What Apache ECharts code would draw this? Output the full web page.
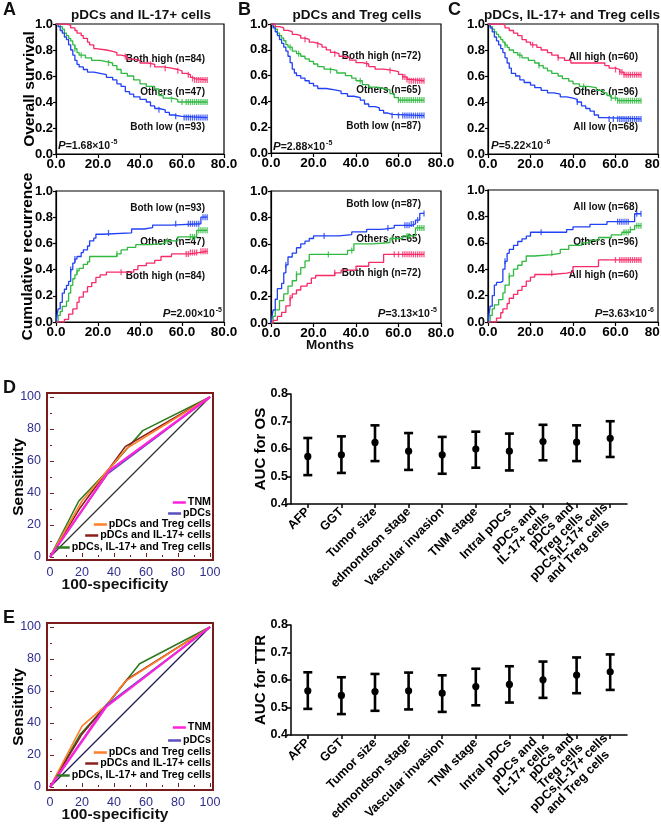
<!DOCTYPE html>
<html><head><meta charset="utf-8">
<script src="https://cdn.jsdelivr.net/npm/echarts@6/dist/echarts.min.js"></script>
<style>html,body{margin:0;padding:0;background:#fff}#c{width:661px;height:830px}</style>
</head><body><div id="c"></div><script>
const FONT='Arial, "Liberation Sans", Helvetica, sans-serif';
const C_HIGH='#F72A68', C_OTH='#2FB940', C_LOW='#2141F5';

// ---------- Kaplan-Meier: overall survival ----------
const A_os_high=[[0,1],[5,0.99],[7,0.97],[9,0.95],[10,0.93],[12,0.91],[13,0.89],[15,0.86],[16,0.84],[18,0.81],[19,0.80],[24,0.79],[27,0.78],[29,0.76],[31,0.75],[34,0.73],[37,0.72],[40,0.70],[44,0.69],[47,0.67],[51,0.66],[55,0.65],[58,0.64],[60,0.62],[62,0.61],[64,0.59],[65,0.58],[66,0.57],[72,0.57]];
const A_os_oth=[[0,1],[2,0.98],[3,0.96],[4,0.93],[5,0.91],[6,0.89],[7,0.87],[8,0.84],[9,0.81],[10,0.78],[11,0.76],[14,0.74],[17,0.72],[21,0.71],[24,0.70],[27,0.68],[29,0.65],[31,0.62],[34,0.60],[37,0.57],[40,0.54],[43,0.52],[47,0.50],[49,0.45],[51,0.43],[55,0.42],[58,0.40],[72,0.40]];
const A_os_low=[[0,1],[1,0.98],[2,0.95],[3,0.93],[4,0.90],[5,0.88],[6,0.84],[7,0.80],[8,0.76],[9,0.72],[10,0.69],[11,0.67],[13,0.65],[15,0.63],[18,0.62],[21,0.61],[24,0.59],[27,0.57],[29,0.54],[31,0.52],[33,0.48],[35,0.46],[37,0.44],[40,0.42],[43,0.40],[45,0.37],[47,0.35],[49,0.34],[52,0.32],[54,0.30],[56,0.29],[60,0.28],[72,0.28]];
const A_os_high_c=[33,45,52,58,63,65,66,67,68,69,70,71,72];
const A_os_oth_c=[9,12,25,55,60,62,63,64,65,66,67,68,69,70,71,72];
const A_os_low_c=[49,57,61,62,63,64,65,66,67,68,69,70,71,72];

const B_os_high=[[0,1],[2,0.98],[4,0.97],[6,0.95],[8,0.94],[10,0.92],[12,0.91],[14,0.89],[16,0.88],[18,0.86],[20,0.85],[22,0.84],[24,0.82],[26,0.80],[28,0.78],[30,0.77],[32,0.75],[34,0.74],[37,0.72],[40,0.70],[43,0.69],[46,0.67],[49,0.65],[53,0.64],[57,0.63],[60,0.61],[62,0.59],[64,0.57],[65,0.56],[72,0.56]];
const B_os_oth=[[0,1],[1,0.98],[2,0.96],[3,0.93],[4,0.91],[5,0.89],[6,0.87],[7,0.84],[8,0.82],[10,0.79],[12,0.77],[14,0.75],[16,0.73],[18,0.71],[20,0.69],[22,0.67],[25,0.65],[28,0.64],[31,0.62],[35,0.60],[38,0.58],[40,0.56],[43,0.53],[46,0.51],[50,0.50],[53,0.49],[56,0.46],[58,0.43],[60,0.41],[72,0.41]];
const B_os_low=[[0,1],[1,0.97],[2,0.94],[3,0.91],[4,0.88],[5,0.85],[6,0.82],[7,0.79],[8,0.75],[9,0.70],[10,0.65],[11,0.62],[12,0.60],[14,0.58],[16,0.56],[18,0.54],[20,0.52],[22,0.50],[26,0.49],[30,0.48],[33,0.46],[36,0.44],[39,0.43],[42,0.41],[44,0.38],[46,0.36],[49,0.35],[51,0.33],[53,0.31],[55,0.30],[57,0.29],[72,0.29]];
const B_os_high_c=[16,22,30,45,56,62,63,64,65,66,67,68,69,70,71,72];
const B_os_oth_c=[9,13,28,42,60,61,62,63,64,65,66,67,68,69,70,71,72];
const B_os_low_c=[57,60,62,63,64,65,66,67,68,69,70,71,72];

const C_os_high=[[0,1],[7,0.99],[8,0.97],[10,0.95],[12,0.93],[14,0.91],[16,0.88],[18,0.86],[20,0.84],[23,0.82],[25,0.80],[28,0.78],[30,0.76],[33,0.74],[36,0.72],[39,0.70],[55,0.68],[57,0.66],[60,0.65],[62,0.63],[64,0.61],[72,0.61]];
const C_os_oth=[[0,1],[1,0.98],[2,0.96],[3,0.94],[4,0.92],[5,0.90],[6,0.88],[7,0.86],[8,0.84],[9,0.82],[10,0.80],[12,0.78],[14,0.76],[16,0.74],[19,0.72],[22,0.70],[24,0.68],[26,0.66],[28,0.64],[30,0.62],[33,0.60],[35,0.58],[38,0.56],[40,0.54],[43,0.52],[47,0.51],[51,0.49],[54,0.47],[56,0.45],[58,0.43],[61,0.41],[72,0.41]];
const C_os_low=[[0,1],[1,0.97],[2,0.94],[3,0.90],[4,0.87],[5,0.84],[6,0.81],[7,0.78],[8,0.74],[9,0.70],[10,0.66],[11,0.62],[13,0.60],[15,0.57],[17,0.55],[20,0.53],[22,0.51],[25,0.49],[28,0.47],[31,0.46],[34,0.44],[37,0.43],[40,0.42],[42,0.40],[44,0.37],[46,0.35],[48,0.33],[50,0.30],[52,0.28],[55,0.27],[72,0.27]];
const C_os_high_c=[21,33,60,62,63,64,65,66,67,68,69,70,71,72];
const C_os_oth_c=[8,15,24,45,58,60,61,62,63,64,65,66,67,68,69,70,71,72];
const C_os_low_c=[42,57,59,61,62,63,64,65,66,67,68,69,70,71,72];

// ---------- Kaplan-Meier: cumulative recurrence ----------
const A_rec_low=[[0,0],[0.5,0.05],[1,0.10],[2,0.15],[3,0.22],[4,0.25],[5,0.28],[6,0.31],[7,0.40],[8,0.45],[9,0.48],[10,0.50],[12,0.53],[13,0.55],[15,0.58],[16,0.62],[18,0.64],[19,0.67],[22,0.68],[36,0.71],[42,0.72],[46,0.74],[55,0.75],[69,0.80],[72,0.80]];
const A_rec_oth=[[0,0],[1,0.05],[2,0.08],[3,0.12],[5,0.16],[6,0.22],[7,0.28],[8,0.33],[9,0.36],[10,0.39],[11,0.41],[13,0.44],[15,0.46],[16,0.50],[29,0.52],[31,0.55],[34,0.57],[38,0.59],[45,0.60],[52,0.62],[58,0.65],[67,0.70],[72,0.70]];
const A_rec_high=[[0,0],[4,0.02],[6,0.06],[8,0.10],[10,0.15],[11,0.19],[13,0.23],[15,0.27],[17,0.30],[19,0.34],[21,0.36],[24,0.38],[37,0.40],[39,0.43],[43,0.45],[47,0.47],[50,0.50],[55,0.52],[64,0.53],[68,0.54],[72,0.54]];
const A_rec_low_c=[7,9,25,57,63,64,65,66,67,68,70,71,72];
const A_rec_oth_c=[10,29,53,64,65,66,68,69,70,71,72];
const A_rec_high_c=[31,62,63,64,65,66,67,69,70,71,72];

const B_rec_low=[[0,0],[0.5,0.05],[1,0.10],[2,0.18],[3,0.26],[5,0.30],[6,0.38],[7,0.44],[8,0.50],[10,0.53],[12,0.57],[14,0.60],[16,0.62],[18,0.64],[20,0.66],[32,0.67],[38,0.69],[45,0.71],[52,0.72],[58,0.74],[66,0.75],[68,0.78],[70,0.83],[72,0.83]];
const B_rec_oth=[[0,0],[1,0.05],[2,0.10],[4,0.17],[6,0.22],[8,0.28],[10,0.32],[12,0.37],[14,0.42],[16,0.47],[18,0.52],[36,0.55],[39,0.60],[48,0.61],[56,0.64],[62,0.66],[68,0.72],[72,0.72]];
const B_rec_high=[[0,0],[1,0.02],[3,0.05],[5,0.08],[7,0.13],[9,0.19],[10,0.22],[12,0.25],[14,0.28],[17,0.30],[19,0.34],[21,0.36],[30,0.38],[33,0.40],[40,0.43],[46,0.46],[53,0.52],[72,0.52]];
const B_rec_low_c=[7,25,55,63,64,65,66,67,69,72];
const B_rec_oth_c=[12,27,38,57,64,65,69,70,71,72];
const B_rec_high_c=[9,30,58,60,62,63,64,65,66,67,68,69,70,71,72];

const C_rec_low=[[0,0],[0.5,0.06],[1,0.12],[2,0.20],[3,0.28],[4,0.30],[6,0.31],[7,0.40],[8,0.46],[9,0.52],[10,0.55],[12,0.58],[14,0.61],[16,0.63],[18,0.65],[20,0.68],[37,0.70],[40,0.72],[48,0.74],[56,0.76],[69,0.82],[72,0.82]];
const C_rec_oth=[[0,0],[1,0.05],[2,0.10],[3,0.13],[5,0.17],[7,0.22],[8,0.28],[10,0.35],[12,0.40],[14,0.43],[16,0.46],[18,0.50],[22,0.51],[30,0.52],[34,0.55],[38,0.58],[44,0.60],[48,0.62],[52,0.64],[58,0.66],[63,0.68],[67,0.70],[69,0.73],[72,0.73]];
const C_rec_high=[[0,0],[4,0.03],[6,0.07],[7,0.10],[9,0.14],[10,0.18],[12,0.21],[14,0.24],[16,0.27],[18,0.31],[20,0.34],[22,0.36],[30,0.37],[37,0.38],[40,0.42],[52,0.47],[72,0.47]];
const C_rec_low_c=[8,25,61,62,63,64,65,66,70,72];
const C_rec_oth_c=[10,30,64,65,66,67,70,71,72];
const C_rec_high_c=[30,60,62,63,64,65,66,67,68,69,70,71,72];

// ---------- ROC ----------
const rocNames=['TNM','pDCs','pDCs and Treg cells','pDCs and IL-17+ cells','pDCs, IL-17+ and Treg cells'];
const rocColors=['#FF22DD','#5A4FC0','#FF7F2A','#8B1E1E','#2E7B1E'];
const D_roc_TNM=[[0,0],[37,54],[100,100]];
const D_roc_pDCs=[[0,0],[36,52],[100,100]];
const D_roc_Treg=[[0,0],[20,35],[36,54],[48,68],[100,100]];
const D_roc_IL17=[[0,0],[19,31],[36,54],[47,69],[100,100]];
const D_roc_all=[[0,0],[18,35],[37,55],[58,79],[100,100]];
const E_roc_TNM=[[0,0],[35,50],[100,100]];
const E_roc_pDCs=[[0,0],[35,51],[100,100]];
const E_roc_Treg=[[0,0],[20,38],[36,52],[47,66],[100,100]];
const E_roc_IL17=[[0,0],[20,33],[36,52],[48,67],[100,100]];
const E_roc_all=[[0,0],[19,33],[37,53],[56,77],[100,100]];
const rocDiag=[[0,0],[100,100]];

// ---------- AUC ----------
const aucCats=['AFP','GGT','Tumor size','edmondson stage','Vascular invasion','TNM stage','Intral pDCs','pDCs and\nIL-17+ cells','pDCs and\nTreg cells','pDCs,IL-17+ cells\nand Treg cells'];
const os_auc=[0.573,0.579,0.624,0.592,0.579,0.600,0.592,0.627,0.625,0.639];
const os_lo=[0.505,0.513,0.556,0.524,0.510,0.532,0.522,0.559,0.556,0.571];
const os_hi=[0.640,0.646,0.686,0.658,0.644,0.663,0.656,0.688,0.686,0.701];
const ttr_auc=[0.561,0.544,0.558,0.561,0.552,0.576,0.584,0.601,0.618,0.630];
const ttr_lo=[0.495,0.476,0.488,0.493,0.484,0.508,0.518,0.535,0.552,0.564];
const ttr_hi=[0.628,0.610,0.622,0.627,0.617,0.641,0.650,0.667,0.682,0.693];

// ================= build =================
const grids=[
 {left:56,top:24,width:168,height:130},
 {left:271,top:24,width:170,height:129},
 {left:488,top:24,width:170,height:130},
 {left:56,top:191,width:168,height:131},
 {left:271,top:191,width:170,height:132},
 {left:488,top:190,width:170,height:132},
 {left:50,top:397,width:160,height:160},
 {left:291,top:394,width:336,height:110},
 {left:50,top:627,width:160,height:160},
 {left:291,top:625,width:336,height:110}
].map((g,i)=>Object.assign(g,{outerBoundsMode:'none',containLabel:false,
  show:i<6,borderColor:'#000',borderWidth:1.2,backgroundColor:'transparent'}));

const xAxes=[],yAxes=[],series=[],legends=[],graphics=[];
const boldTxt=(s)=>({color:'#000',fontWeight:'bold',fontSize:s,fontFamily:FONT});

function kmAxes(gi,yName,gap){
  xAxes.push({gridIndex:gi,type:'value',min:0,max:80,interval:20,
    axisLine:{show:true,onZero:false,lineStyle:{color:'#000',width:1.2}},
    axisTick:{show:true,length:4,lineStyle:{color:'#000',width:1.2}},
    splitLine:{show:false},
    axisLabel:Object.assign({formatter:v=>v.toFixed(1),margin:3},boldTxt(13.5))});
  yAxes.push({gridIndex:gi,type:'value',min:0,max:1,interval:0.2,
    name:yName||'',nameLocation:'middle',nameGap:gap||0,nameMoveOverlap:false,nameTextStyle:boldTxt(15.5),
    axisLine:{show:true,onZero:false,lineStyle:{color:'#000',width:1.2}},
    axisTick:{show:true,length:3,lineStyle:{color:'#000',width:1.2}},
    splitLine:{show:false},
    axisLabel:Object.assign({formatter:v=>v.toFixed(1),margin:3},boldTxt(13))});
}
function stepAt(d,t){let v=d[0][1];for(const p of d){if(p[0]<=t)v=p[1];else break;}return v;}
function km(gi,d,c,color){
  series.push({type:'line',xAxisIndex:gi,yAxisIndex:gi,data:d,step:'end',symbol:'none',color:color,
    lineStyle:{color:color,width:1.3},silent:true,animation:false});
  series.push({type:'scatter',xAxisIndex:gi,yAxisIndex:gi,data:c.map(t=>[t,stepAt(d,t)]),
    symbol:'rect',symbolSize:[1.3,6],itemStyle:{color:color},silent:true,animation:false});
}
kmAxes(0,'Overall survival',18);kmAxes(1);kmAxes(2);
kmAxes(3,'Cumulative recurrence',20);kmAxes(4);kmAxes(5);
km(0,A_os_oth,A_os_oth_c,C_OTH);km(0,A_os_low,A_os_low_c,C_LOW);km(0,A_os_high,A_os_high_c,C_HIGH);
km(1,B_os_oth,B_os_oth_c,C_OTH);km(1,B_os_low,B_os_low_c,C_LOW);km(1,B_os_high,B_os_high_c,C_HIGH);
km(2,C_os_oth,C_os_oth_c,C_OTH);km(2,C_os_low,C_os_low_c,C_LOW);km(2,C_os_high,C_os_high_c,C_HIGH);
km(3,A_rec_oth,A_rec_oth_c,C_OTH);km(3,A_rec_high,A_rec_high_c,C_HIGH);km(3,A_rec_low,A_rec_low_c,C_LOW);
km(4,B_rec_oth,B_rec_oth_c,C_OTH);km(4,B_rec_high,B_rec_high_c,C_HIGH);km(4,B_rec_low,B_rec_low_c,C_LOW);
km(5,C_rec_oth,C_rec_oth_c,C_OTH);km(5,C_rec_high,C_rec_high_c,C_HIGH);km(5,C_rec_low,C_rec_low_c,C_LOW);

// ROC axes
function rocAxes(gi){
  const tick={show:true,inside:true,length:4,lineStyle:{color:'#7B1C1C',width:1}};
  const minor={show:true,splitNumber:2,length:2,lineStyle:{color:'#7B1C1C',width:1}};
  const lab={color:'#2E2E8F',fontSize:12.5,fontFamily:FONT,margin:6};
  xAxes.push({gridIndex:gi,type:'value',min:0,max:100,interval:20,offset:3,
    axisLine:{show:false},axisTick:tick,minorTick:minor,splitLine:{show:false},minorSplitLine:{show:false},axisLabel:lab});
  yAxes.push({gridIndex:gi,type:'value',min:0,max:100,interval:20,offset:3,
    name:'Sensitivity',nameLocation:'middle',nameGap:20,nameMoveOverlap:false,nameTextStyle:boldTxt(15.5),
    axisLine:{show:false},axisTick:tick,minorTick:minor,splitLine:{show:false},minorSplitLine:{show:false},axisLabel:lab});
}
rocAxes(6);
function rocLines(gi,arrs,diagColor){
  series.push({type:'line',xAxisIndex:gi,yAxisIndex:gi,data:rocDiag,symbol:'none',lineStyle:{color:diagColor,width:1.3},silent:true,animation:false});
  const order=[4,3,2,1,0];
  order.forEach(k=>series.push({type:'line',name:rocNames[k],xAxisIndex:gi,yAxisIndex:gi,data:arrs[k],symbol:'none',color:rocColors[k],
    lineStyle:{color:rocColors[k],width:k===0?2.2:1.6},silent:true,animation:false}));
}
rocLines(6,[D_roc_TNM,D_roc_pDCs,D_roc_Treg,D_roc_IL17,D_roc_all],'#333333');

function aucAxes(gi,name,gap){
  xAxes.push({gridIndex:gi,type:'category',data:aucCats,boundaryGap:true,
    axisLine:{show:true,lineStyle:{color:'#000',width:1.5}},
    axisTick:{show:true,alignWithLabel:true,length:4,lineStyle:{color:'#000',width:1.5}},
    splitLine:{show:false},
    axisLabel:{interval:0,rotate:45,margin:6,
      formatter:v=>v.split('\n').map(s=>'{c|'+s+'}').join('\n'),
      rich:{c:{align:'center',color:'#000',fontWeight:'bold',fontSize:12.5,fontFamily:FONT,lineHeight:13}}}});
  yAxes.push({gridIndex:gi,type:'value',min:0.4,max:0.8,interval:0.1,
    name:name,nameLocation:'middle',nameGap:gap,nameMoveOverlap:false,nameTextStyle:boldTxt(15),
    axisLine:{show:true,lineStyle:{color:'#000',width:1.5}},
    axisTick:{show:true,length:4,lineStyle:{color:'#000',width:1.5}},
    splitLine:{show:false},
    axisLabel:Object.assign({formatter:v=>v.toFixed(1),margin:3},boldTxt(12.5))});
}
aucAxes(7,'AUC for OS',23);
function errSeries(gi,m,lo,hi){
  series.push({type:'custom',xAxisIndex:gi,yAxisIndex:gi,data:m.map((v,i)=>[i,v,lo[i],hi[i]]),
    encode:{x:0,y:[1,2,3]},silent:true,animation:false,
    renderItem:(p,api)=>{
      const i=api.value(0);const c=api.coord([i,api.value(1)]);
      const l=api.coord([i,api.value(2)]);const h=api.coord([i,api.value(3)]);
      const w=4.5;const st={stroke:'#000',lineWidth:2.6};
      return {type:'group',children:[
        {type:'line',shape:{x1:c[0],y1:l[1],x2:c[0],y2:h[1]},style:st},
        {type:'line',shape:{x1:c[0]-w,y1:l[1],x2:c[0]+w,y2:l[1]},style:st},
        {type:'line',shape:{x1:c[0]-w,y1:h[1],x2:c[0]+w,y2:h[1]},style:st},
        {type:'circle',shape:{cx:c[0],cy:c[1],r:3.6},style:{fill:'#000'}}]};
    }});
}
errSeries(7,os_auc,os_lo,os_hi);

rocAxes(8);
rocLines(8,[E_roc_TNM,E_roc_pDCs,E_roc_Treg,E_roc_IL17,E_roc_all],'#1C1C55');
aucAxes(9,'AUC for TTR',23);
errSeries(9,ttr_auc,ttr_lo,ttr_hi);

// legends (right-aligned items)
function rocLegend(centers){
  rocNames.forEach((n,k)=>legends.push({data:[n],right:450,top:centers[k]-6,padding:0,itemGap:0,
    icon:'rect',itemWidth:13,itemHeight:2.5,selectedMode:false,
    textStyle:{color:'#000',fontWeight:'bold',fontSize:10.7,fontFamily:FONT,padding:[0,0,0,-3]}}));
}
rocLegend([503,514,525,536,548]);
rocLegend([728,741,753,764,776]);

// text annotations
function T(x,y,text,size,align,extra){
  graphics.push({type:'text',x:x,y:y,silent:true,style:Object.assign({text:text,fill:'#111',
    font:'bold '+size+'px '+FONT,textAlign:align||'left',textVerticalAlign:'middle',align:align||'left',verticalAlign:'middle'},extra||{})});
}
function P(x,y,val,exp,align){
  graphics.push({type:'text',x:x,y:y,silent:true,style:{text:'{i|P}{n|='+val+'×10}{s|'+exp+'}',
    textAlign:align,align:align,textVerticalAlign:'middle',verticalAlign:'middle',
    rich:{i:{fontStyle:'italic',fontWeight:'bold',fontSize:11.5,fontFamily:FONT,fill:'#111',color:'#111'},
          n:{fontWeight:'bold',fontSize:10.5,fontFamily:FONT,fill:'#111',color:'#111'},
          s:{fontWeight:'bold',fontSize:7,fontFamily:FONT,fill:'#111',color:'#111',padding:[0,0,7,1]}}}});
}
// panel letters
T(3,10,'A',18);T(238,10,'B',18);T(448,10,'C',18);T(3,388,'D',18);T(3,618,'E',18);
// titles
T(141,15,'pDCs and IL-17+ cells',13.5,'center');
T(357,15,'pDCs and Treg cells',13.5,'center');
T(572,15,'pDCs, IL-17+ and Treg cells',13.5,'center');
// OS labels
T(205,59,'Both high (n=84)',10,'right');T(205,92,'Others (n=47)',10,'right');T(205,127,'Both low (n=93)',10,'right');
T(421,56,'Both high (n=72)',10,'right');T(421,90,'Others (n=65)',10,'right');T(421,126,'Both low (n=87)',10,'right');
T(638,57,'All high (n=60)',10,'right');T(638,92,'Others (n=96)',10,'right');T(638,127,'All low (n=68)',10,'right');
P(58,146,'1.68','-5','left');P(273,147,'2.88','-5','left');P(491,146,'5.22','-6','left');
// recurrence labels
T(205,208,'Both low (n=93)',10,'right');T(205,242,'Others (n=47)',10,'right');T(205,276,'Both high (n=84)',10,'right');
T(421,204,'Both low (n=87)',10,'right');T(421,239,'Others (n=65)',10,'right');T(421,273,'Both high (n=72)',10,'right');
T(638,207,'All low (n=68)',10,'right');T(638,242,'Others (n=96)',10,'right');T(638,275,'All high (n=60)',10,'right');
P(222,314,'2.00','-5','right');P(437,314,'3.13','-5','right');P(654,314,'3.63','-6','right');
T(330,345,'Months',13.5,'center');
T(115,585,'100-specificity',15.5,'center');
T(115,815,'100-specificity',15.5,'center');
// ROC frames
[[47,393],[47,623]].forEach(([x,y])=>graphics.push({type:'rect',silent:true,shape:{x:x,y:y,width:166,height:167},
  style:{fill:'none',stroke:'#7B1C1C',lineWidth:2}}));

const chart=echarts.init(document.getElementById('c'),null,{renderer:'canvas'});
chart.setOption({animation:false,backgroundColor:'#fff',grid:grids,xAxis:xAxes,yAxis:yAxes,series:series,legend:legends,graphic:graphics});
</script></body></html>
